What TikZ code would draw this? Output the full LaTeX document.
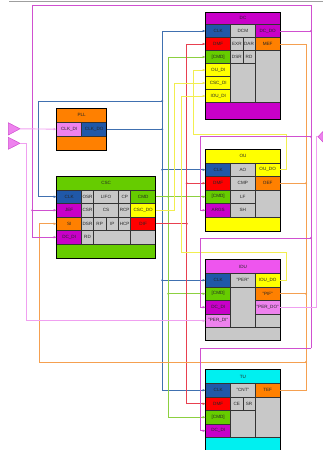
\documentclass[tikz,border=0pt]{standalone}
\usepackage{fontspec}
\setmainfont{Liberation Sans}
\usetikzlibrary{arrows.meta}
\definecolor{cBlue}{HTML}{2058A8}
\definecolor{cRed}{HTML}{FF0000}
\definecolor{cGreen}{HTML}{66CC00}
\definecolor{cYellow}{HTML}{FFFF00}
\definecolor{cOrange}{HTML}{FF8000}
\definecolor{cMag}{HTML}{C800C8}
\definecolor{cIdu}{HTML}{EE55EE}
\definecolor{cPink}{HTML}{EE82EE}
\definecolor{cGray}{HTML}{C8C8C8}
\definecolor{cCyan}{HTML}{00F0F0}
\definecolor{lBlue}{HTML}{4070B0}
\definecolor{lRed}{HTML}{E84050}
\definecolor{lGreen}{HTML}{8CD040}
\definecolor{lYellow}{HTML}{F2EE50}
\definecolor{lOrange}{HTML}{F5A050}
\definecolor{lMag}{HTML}{D050D0}
\definecolor{lPink}{HTML}{F0A0F0}
\newcommand\cel[7]{%
  \node[cell,fill=#6,minimum width={(#4-#2)*1pt},minimum height={(#5-#3)*1pt},anchor=north west] (#1) at (#2,#3) {#7};}
\newcommand\obox[5]{%
  \node[outerbox,minimum width={(#4-#2)*1pt},minimum height={(#5-#3)*1pt},anchor=north west] (#1) at (#2,#3) {};}
\begin{document}
\begin{tikzpicture}[x=1pt,y=-1pt,
  cell/.style={draw=black!80,line width=0.5pt,inner sep=0pt,outer sep=0pt,
    font=\fontsize{4.6}{5}\selectfont,text=black!85},
  outerbox/.style={draw=black,line width=0.9pt,inner sep=0pt,outer sep=0pt},
  conn/.style={line width=0.9pt},
  lb/.style={conn,draw=lBlue},
  lr/.style={conn,draw=lRed},
  lg/.style={conn,draw=lGreen},
  ly/.style={conn,draw=lYellow},
  lo/.style={conn,draw=lOrange},
  lm/.style={conn,draw=lMag},
  lp/.style={conn,draw=lPink},
  arr/.style={-{Latex[length=3pt,width=2.6pt]}},
  jdot/.style={radius=1.1pt}]
\useasboundingbox (0,0) rectangle (323,450);
\draw[gray!75,line width=0.8pt] (9,1) -- (323,1);

% ---------- blocks ----------
% PLL
\cel{PLLt}{56.7}{108.3}{106.7}{122.3}{cOrange}{PLL}
\cel{PLLdi}{56.7}{122.3}{81.7}{136}{cPink}{CLK\_DI}
\cel{PLLdo}{81.7}{122.3}{106.7}{136}{cBlue}{CLK\_DO}
\cel{PLLb}{56.7}{136}{106.7}{150}{cOrange}{}
\obox{PLL}{56.7}{108.3}{106.7}{150}
% CSC
\cel{CSCt}{56.7}{176}{155.7}{190}{cGreen}{CSC}
\cel{CSCclk}{56.7}{190}{81.7}{203.5}{cBlue}{CLK}
\cel{CSCosr}{81.7}{190}{93.3}{203.5}{cGray}{OSR}
\cel{CSClifo}{93.3}{190}{118.7}{203.5}{cGray}{LIFO}
\cel{CSCcp}{118.7}{190}{130.7}{203.5}{cGray}{CP}
\cel{CSCcmd}{130.7}{190}{155.7}{203.5}{cGreen}{CMD}
\cel{CSCjef}{56.7}{203.5}{81.7}{217}{cMag}{JEF}
\cel{CSCcsr}{81.7}{203.5}{93.3}{217}{cGray}{CSR}
\cel{CSCcs}{93.3}{203.5}{118.7}{217}{cGray}{CS}
\cel{CSCrcp}{118.7}{203.5}{130.7}{217}{cGray}{RCP}
\cel{CSCdo}{130.7}{203.5}{155.7}{217}{cYellow}{CSC\_DO}
\cel{CSCsi}{56.7}{217}{81.7}{230.5}{cOrange}{SI}
\cel{CSCdsr}{81.7}{217}{93.3}{230.5}{cGray}{DSR}
\cel{CSCrp}{93.3}{217}{106}{230.5}{cGray}{RP}
\cel{CSCip}{106}{217}{118.7}{230.5}{cGray}{IP}
\cel{CSChcp}{118.7}{217}{130.7}{230.5}{cGray}{HCP}
\cel{CSCdif}{130.7}{217}{155.7}{230.5}{cRed}{DIF}
\cel{CSCdcdi}{56.7}{230.5}{81.7}{244}{cMag}{DC\_DI}
\cel{CSCrd}{81.7}{230.5}{93.3}{244}{cGray}{RD}
\cel{CSCg1}{93.3}{230.5}{130.7}{244}{cGray}{}
\cel{CSCg2}{130.7}{230.5}{155.7}{244}{cGray}{}
\cel{CSCb}{56.7}{244}{155.7}{258.5}{cGreen}{}
\obox{CSC}{56.7}{176}{155.7}{258.5}
% DC
\cel{DCt}{205.7}{12}{280.3}{24.5}{cMag}{DC}
\cel{DCclk}{205.7}{24.5}{230.7}{37.5}{cBlue}{CLK}
\cel{DCdcm}{230.7}{24.5}{255}{37.5}{cGray}{DCM}
\cel{DCdo}{255}{24.5}{280.3}{37.5}{cMag}{DC\_DO}
\cel{DCdmf}{205.7}{37.5}{230.7}{50.5}{cRed}{DMF}
\cel{DCexr}{230.7}{37.5}{243}{50.5}{cGray}{EXR}
\cel{DCdar}{243}{37.5}{255}{50.5}{cGray}{DAR}
\cel{DCmef}{255}{37.5}{280.3}{50.5}{cOrange}{MEF}
\cel{DCcmd}{205.7}{50.5}{230.7}{63.5}{cGreen}{[CMD]}
\cel{DCdsr}{230.7}{50.5}{243}{63.5}{cGray}{DSR}
\cel{DCrd}{243}{50.5}{255}{63.5}{cGray}{RD}
\cel{DCg3}{255}{50.5}{280.3}{102.5}{cGray}{}
\cel{DCoudi}{205.7}{63.5}{230.7}{76.5}{cYellow}{OU\_DI}
\cel{DCg2}{230.7}{63.5}{255}{102.5}{cGray}{}
\cel{DCcscdi}{205.7}{76.5}{230.7}{89.5}{cYellow}{CSC\_DI}
\cel{DCioudi}{205.7}{89.5}{230.7}{102.5}{cYellow}{IOU\_DI}
\cel{DCb}{205.7}{102.5}{280.3}{119}{cMag}{}
\obox{DC}{205.7}{12}{280.3}{119}
% OU
\cel{OUt}{205.7}{149}{280.3}{163}{cYellow}{OU}
\cel{OUclk}{205.7}{163}{230.7}{176.5}{cBlue}{CLK}
\cel{OUao}{230.7}{163}{255}{176.5}{cGray}{AO}
\cel{OUdo}{255}{163}{280.3}{176.5}{cYellow}{OU\_DO}
\cel{OUdmf}{205.7}{176.5}{230.7}{190}{cRed}{DMF}
\cel{OUcmp}{230.7}{176.5}{255}{190}{cGray}{CMP}
\cel{OUoef}{255}{176.5}{280.3}{190}{cOrange}{OEF}
\cel{OUcmd}{205.7}{190}{230.7}{203.5}{cGreen}{[CMD]}
\cel{OUlf}{230.7}{190}{255}{203.5}{cGray}{LF}
\cel{OUg3}{255}{190}{280.3}{217}{cGray}{}
\cel{OUargs}{205.7}{203.5}{230.7}{217}{cMag}{ARGS}
\cel{OUsh}{230.7}{203.5}{255}{217}{cGray}{SH}
\cel{OUb}{205.7}{217}{280.3}{231}{cYellow}{}
\obox{OU}{205.7}{149}{280.3}{231}
% IDU
\cel{IDUt}{205.7}{259.5}{280.3}{273.5}{cIdu}{IDU}
\cel{IDUclk}{205.7}{273.5}{230.7}{287}{cBlue}{CLK}
\cel{IDUper}{230.7}{273.5}{255}{287}{cGray}{"PER"}
\cel{IDUdo}{255}{273.5}{280.3}{287}{cYellow}{IOU\_DO}
\cel{IDUcmd}{205.7}{287}{230.7}{300.5}{cGreen}{[CMD]}
\cel{IDUg2}{230.7}{287}{255}{327.5}{cGray}{}
\cel{IDUpif}{255}{287}{280.3}{300.5}{cOrange}{"PIF"}
\cel{IDUdcdi}{205.7}{300.5}{230.7}{314}{cMag}{DC\_DI}
\cel{IDUperdo}{255}{300.5}{280.3}{314}{cPink}{"PER\_DO"}
\cel{IDUperdi}{205.7}{314}{230.7}{327.5}{cPink}{"PER\_DI"}
\cel{IDUg3}{255}{314}{280.3}{327.5}{cGray}{}
\cel{IDUb}{205.7}{327.5}{280.3}{340}{cGray}{}
\obox{IDU}{205.7}{259.5}{280.3}{340}
% TU
\cel{TUt}{205.7}{369.5}{280.3}{383.5}{cCyan}{TU}
\cel{TUclk}{205.7}{383.5}{230.7}{397}{cBlue}{CLK}
\cel{TUcnt}{230.7}{383.5}{255}{397}{cGray}{"CNT"}
\cel{TUtef}{255}{383.5}{280.3}{397}{cOrange}{TEF}
\cel{TUdmf}{205.7}{397}{230.7}{410.5}{cRed}{DMF}
\cel{TUce}{230.7}{397}{243}{410.5}{cGray}{CE}
\cel{TUsr}{243}{397}{255}{410.5}{cGray}{SR}
\cel{TUg3}{255}{397}{280.3}{437.5}{cGray}{}
\cel{TUcmd}{205.7}{410.5}{230.7}{424}{cGreen}{[CMD]}
\cel{TUg2}{230.7}{410.5}{255}{437.5}{cGray}{}
\cel{TUdcdi}{205.7}{424}{230.7}{437.5}{cMag}{DC\_DI}
\cel{TUb}{205.7}{437.5}{280.3}{456}{cCyan}{}
\obox{TU}{205.7}{369.5}{280.3}{456}

% ---------- ports ----------
\coordinate (t1) at (20,128.8);
\coordinate (t2) at (20,143.3);
\filldraw[fill=cPink,draw=lMag,line width=0.5pt] (8.3,122.7) -- (t1) -- (8.3,135) -- cycle;
\filldraw[fill=cPink,draw=lMag,line width=0.5pt] (8.3,137.3) -- (t2) -- (8.3,149.3) -- cycle;
\coordinate (pR) at (318,136.7);
\filldraw[fill=cPink,draw=lMag,line width=0.5pt] (pR) -- (323,131.5) -- (323,142) -- cycle;

% ---------- buses / coordinates ----------
\coordinate (bx) at (162.3,0);
\coordinate (gx) at (168.3,0);
\coordinate (rx) at (186.7,0);
\coordinate (ox) at (306,0);
\coordinate (mx) at (311,0);

% blue
\draw[lb,arr] (bx |- TUclk.west) -- (bx |- DCclk.west) -- (DCclk.west);
\draw[lb,arr] (bx |- TUclk.west) -- (TUclk.west);
\draw[lb,arr] (bx |- OUclk.west) -- (OUclk.west);
\draw[lb,arr] (bx |- IDUclk.west) -- (IDUclk.west);
\draw[lb] (PLLdo.east) -- (bx |- PLLdo.east);
\coordinate (bj) at (162.3,101);
\coordinate (bl) at (38.3,101);
\draw[lb,arr] (bj) -- (bl) |- (CSCclk.west);
\foreach \p in {(bj),(bx |- PLLdo.east),(bx |- OUclk.west),(bx |- IDUclk.west)} \fill[lBlue] \p circle[jdot];

% green
\draw[lg,arr] (gx |- TUcmd.west) -- (gx |- DCcmd.west) -- (DCcmd.west);
\draw[lg,arr] (gx |- TUcmd.west) -- (TUcmd.west);
\draw[lg,arr] (CSCcmd.east) -- (OUcmd.west);
\draw[lg,arr] (gx |- IDUcmd.west) -- (IDUcmd.west);
\foreach \p in {(gx |- OUcmd.west),(gx |- IDUcmd.west)} \fill[lGreen] \p circle[jdot];

% red
\draw[lr,arr] (rx |- TUdmf.west) -- (rx |- DCdmf.west) -- (DCdmf.west);
\draw[lr,arr] (rx |- TUdmf.west) -- (TUdmf.west);
\draw[lr,arr] (rx |- OUdmf.west) -- (OUdmf.west);
\draw[lr] (CSCdif.east) -- (rx |- CSCdif.east);
\foreach \p in {(rx |- OUdmf.west),(rx |- CSCdif.east)} \fill[lRed] \p circle[jdot];

% yellow
\coordinate (y1) at (174.3,0);
\draw[ly,arr] (CSCdo.east) -- (y1 |- CSCdo.east) -- (y1 |- DCcscdi.west) -- (DCcscdi.west);
\coordinate (y2a) at (286,134.7);
\coordinate (y2b) at (193.3,134.7);
\draw[ly,arr] (OUdo.east) -| (y2a) -- (y2b) |- (DCoudi.west);
\coordinate (y3a) at (286,252.7);
\coordinate (y3b) at (181,252.7);
\draw[ly,arr] (IDUdo.east) -| (y3a) -- (y3b) |- (DCioudi.west);

% orange
\draw[lo] (DCmef.east) -- (ox |- DCmef.east) -- (ox |- TUtef.east) -- (TUtef.east);
\draw[lo] (OUoef.east) -- (ox |- OUoef.east);
\draw[lo] (IDUpif.east) -- (ox |- IDUpif.east);
\coordinate (oj) at (306,362);
\coordinate (ol) at (39,362);
\draw[lo,arr] (oj) -- (ol) |- (CSCsi.west);
\foreach \p in {(oj),(ox |- OUoef.east),(ox |- IDUpif.east)} \fill[lOrange] \p circle[jdot];

% magenta
\coordinate (mTR) at (311,5.7);
\coordinate (mTL) at (32.3,5.7);
\coordinate (mBR) at (311,348.3);
\draw[lm] (DCdo.east) -- (mx |- DCdo.east);
\draw[lm,arr] (mBR) -- (mTR) -- (mTL) |- (CSCdcdi.west);
\draw[lm,arr] (mTL |- CSCjef.west) -- (CSCjef.west);
\coordinate (mA) at (311,136.7);
\coordinate (mAx) at (200,136.7);
\draw[lm,arr] (mA) -- (mAx) |- (OUargs.west);
\coordinate (mB) at (311,238);
\coordinate (mBx) at (200,238);
\draw[lm,arr] (mB) -- (mBx) |- (IDUdcdi.west);
\coordinate (mCx) at (200,348.3);
\draw[lm,arr] (mBR) -- (mCx) |- (TUdcdi.west);
\foreach \p in {(mx |- DCdo.east),(mA),(mB),(mTL |- CSCjef.west)} \fill[lMag] \p circle[jdot];

% pink
\draw[lp,arr] (t1) -- (PLLdi.west);
\coordinate (pl) at (26.7,143.3);
\draw[lp,arr] (t2) -- (pl) |- (IDUperdi.west);
\coordinate (pq) at (316,136.7);
\draw[lp] (IDUperdo.east) -| (pq) -- (pR);
\end{tikzpicture}
\end{document}
